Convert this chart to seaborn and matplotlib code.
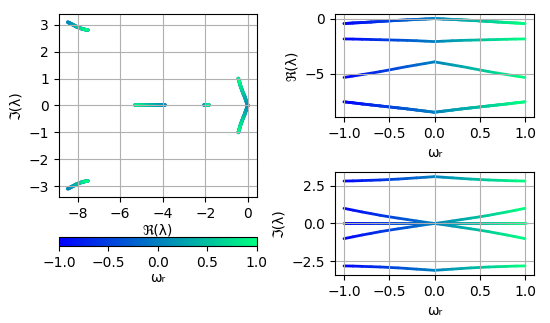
import numpy as np
import pandas as pd
import seaborn as sns
import matplotlib.pyplot as plt
from matplotlib.colors import Normalize
from matplotlib.cm import ScalarMappable

# sample points of omega_r
omega = [-1.0, -0.9, -0.8, -0.7, -0.6, -0.5, -0.4, -0.3, -0.2, -0.1, 0.0,
         0.1, 0.2, 0.3, 0.4, 0.5, 0.6, 0.7, 0.8, 0.9, 1.0]

# eigenvalue branches
re_a = [-7.52, -7.61, -7.71, -7.80, -7.89, -7.98, -8.07, -8.16, -8.26, -8.36, -8.46,
        -8.36, -8.26, -8.16, -8.07, -7.98, -7.89, -7.80, -7.71, -7.61, -7.52]
im_a = [2.80, 2.81, 2.83, 2.85, 2.87, 2.90, 2.93, 2.97, 3.01, 3.05, 3.09,
        3.05, 3.01, 2.97, 2.93, 2.90, 2.87, 2.85, 2.83, 2.81, 2.80]
re_b = [-5.32, -5.19, -5.06, -4.93, -4.79, -4.64, -4.48, -4.33, -4.19, -4.05, -3.91,
        -4.05, -4.19, -4.33, -4.48, -4.64, -4.79, -4.93, -5.06, -5.19, -5.32]
re_c = [-1.84, -1.85, -1.87, -1.89, -1.91, -1.93, -1.95, -1.97, -2.00, -2.04, -2.08,
        -2.04, -2.00, -1.97, -1.95, -1.93, -1.91, -1.89, -1.87, -1.85, -1.84]
re_d = [-0.45, -0.40, -0.36, -0.31, -0.26, -0.21, -0.16, -0.12, -0.08, -0.04, 0.00,
        -0.04, -0.08, -0.12, -0.16, -0.21, -0.26, -0.31, -0.36, -0.40, -0.45]
im_d = [1.00, 0.88, 0.76, 0.65, 0.54, 0.44, 0.35, 0.26, 0.17, 0.08, 0.00,
        -0.08, -0.17, -0.26, -0.35, -0.44, -0.54, -0.65, -0.76, -0.88, -1.00]
zeros = [0.0] * len(omega)

# complex conjugate pairs + real eigenvalues
eigs = [
    (re_a, im_a), (re_a, list(np.negative(im_a))),
    (re_b, zeros), (re_c, zeros),
    (re_d, im_d), (re_d, list(np.negative(im_d))),
]

# split each branch into short segments so colour follows omega
rows = []
seg = 0
for re, im in eigs:
    for i in range(len(omega) - 1):
        wmid = (omega[i] + omega[i + 1]) / 2
        for j in (i, i + 1):
            rows.append(dict(seg=seg, wmid=wmid, w=omega[j], re=re[j], im=im[j]))
        seg += 1
df = pd.DataFrame(rows)

fig = plt.figure(figsize=(5.5, 3.23), dpi=100)
ax0 = fig.add_axes([0.107, 0.390, 0.360, 0.567])
cax = fig.add_axes([0.107, 0.238, 0.360, 0.029])
ax1 = fig.add_axes([0.609, 0.638, 0.362, 0.319])
ax2 = fig.add_axes([0.609, 0.1486, 0.362, 0.319])

kw = dict(hue="wmid", units="seg", estimator=None, palette="winter",
          hue_norm=(-1, 1), legend=False, solid_capstyle="round", zorder=1)

sns.lineplot(data=df, x="re", y="im", sort=False, lw=2.6, ax=ax0, **kw)
sns.lineplot(data=df, x="w", y="re", lw=2.0, ax=ax1, **kw)
sns.lineplot(data=df, x="w", y="im", lw=2.0, ax=ax2, **kw)

for ax in (ax0, ax1, ax2):
    ax.grid(True)

ax0.set_xlabel("ℜ(λ)", labelpad=2)
ax0.set_ylabel("ℑ(λ)")
ax0.set_xticks([-8, -6, -4, -2, 0])
ax0.set_yticks([-3, -2, -1, 0, 1, 2, 3])

ax1.set_xlabel("ωᵣ")
ax1.set_ylabel("ℜ(λ)")
ax1.set_yticks([-5, 0])
ax1.set_xticks([-1.0, -0.5, 0.0, 0.5, 1.0])

ax2.set_xlabel("ωᵣ")
ax2.set_ylabel("ℑ(λ)")
ax2.set_yticks([-2.5, 0.0, 2.5])
ax2.set_xticks([-1.0, -0.5, 0.0, 0.5, 1.0])

sm = ScalarMappable(norm=Normalize(-1, 1), cmap="winter")
cb = fig.colorbar(sm, cax=cax, orientation="horizontal")
cb.set_label("ωᵣ", labelpad=1)

fig.savefig("out.png", dpi=100)
